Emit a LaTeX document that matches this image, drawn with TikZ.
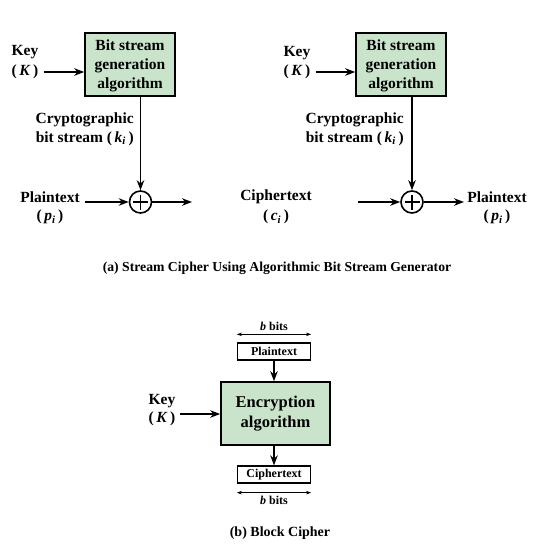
\documentclass[tikz,border=0pt]{standalone}
\usepackage{fontspec}
\setmainfont{Liberation Serif}
\usetikzlibrary{arrows.meta, calc}

\definecolor{algogreen}{RGB}{202,228,204}

\newcommand{\keytxt}{(\,\textit{K}\,)}

\begin{document}
\begin{tikzpicture}[x=1pt, y=-1pt,
    every node/.style={inner sep=0pt, font=\fontsize{15.5}{19}\selectfont\bfseries},
    algobox/.style={draw, fill=algogreen, line width=1.6pt, align=center},
    smallbox/.style={draw, line width=1.3pt, minimum width=73pt, minimum height=17pt,
      font=\fontsize{12}{14}\selectfont\bfseries},
    lbl/.style={align=center},
    flow/.style={line width=1.6pt, -{Stealth[length=10pt, width=7.5pt]}},
    span/.style={line width=0.7pt, {Stealth[length=5pt, width=3.5pt]}-{Stealth[length=5pt, width=3.5pt]}},
    xorsym/.style={circle, draw, line width=1.6pt, minimum size=22pt}]

  \useasboundingbox (0,0) rectangle (545,558);

  % (a) left: encryption side
  \node (keyA) at (25,52) {Key};
  \node (kA) at (25,72) {\keytxt};
  \node[algobox, minimum width=90pt, minimum height=63pt] (algA) at (130,64.5)
    {\strut Bit stream\\generation\\algorithm};
  \node[xorsym] (xorA) at (140.5,202) {};
  \draw[line width=1.6pt] ($(xorA)+(-7.5,0)$) -- ($(xorA)+(7.5,0)$)
    ($(xorA)+(0,-7.5)$) -- ($(xorA)+(0,7.5)$);
  \node[lbl, anchor=east] (cryA) at (134,129) {Cryptographic\\bit stream (\,\textit{k}\textsubscript{\textit{i}}\,)};
  \node (plainA) at (50,197) {Plaintext};
  \node (piA) at (50,217) {(\,\textit{p}\textsubscript{\textit{i}}\,)};
  \coordinate (inA) at (85,202);
  \coordinate (outA) at (192,202);

  \draw[flow] ([xshift=5pt]kA.east) -- (kA.east -| algA.west);
  \draw[flow] (algA.south -| xorA) -- (xorA.north);
  \draw[flow] (inA) -- (xorA.west);
  \draw[flow] (xorA.east) -- (outA);

  % (a) right: decryption side
  \node (keyB) at (297,53) {Key};
  \node (kB) at (297,72) {\keytxt};
  \node[algobox, minimum width=90pt, minimum height=63pt] (algB) at (401,64.5)
    {\strut Bit stream\\generation\\algorithm};
  \node[xorsym] (xorB) at (412,202) {};
  \draw[line width=1.6pt] ($(xorB)+(-7.5,0)$) -- ($(xorB)+(7.5,0)$)
    ($(xorB)+(0,-7.5)$) -- ($(xorB)+(0,7.5)$);
  \node[lbl, anchor=east] (cryB) at (404,129) {Cryptographic\\bit stream (\,\textit{k}\textsubscript{\textit{i}}\,)};
  \node (cipherB) at (276,197) {Ciphertext};
  \node (ciB) at (276,217) {(\,\textit{c}\textsubscript{\textit{i}}\,)};
  \node (plainB) at (497,197) {Plaintext};
  \node (piB) at (497,217) {(\,\textit{p}\textsubscript{\textit{i}}\,)};
  \coordinate (inB) at (358,202);
  \coordinate (outB) at (464,202);

  \draw[flow] ([xshift=5pt]kB.east) -- (kB.east -| algB.west);
  \draw[flow] (algB.south -| xorB) -- (xorB.north);
  \draw[flow] (inB) -- (xorB.west);
  \draw[flow] (xorB.east) -- (outB);

  \node[font=\fontsize{13.7}{16}\selectfont\bfseries] (capA) at (277,268)
    {(a) Stream Cipher Using Algorithmic Bit Stream Generator};

  % (b) block cipher
  \node[smallbox] (ptC) at (274,351.5) {Plaintext};
  \node[algobox, minimum width=109pt, minimum height=63pt,
    font=\fontsize{16.5}{20}\selectfont\bfseries] (encC) at (275.5,413.5) {Encryption\\algorithm};
  \node[smallbox] (ctC) at (274,474.5) {Ciphertext};
  \node (keyC) at (162,401) {Key};
  \node (kC) at (162,419) {\keytxt};
  \coordinate (keyInC) at (180,414);

  \draw[span] ([yshift=8pt]ptC.north west) -- ([yshift=8pt]ptC.north east)
    node[midway, above=3pt, font=\fontsize{12}{14}\selectfont\bfseries] (bitsTop) {\textit{b} bits};
  \draw[span] ([yshift=-9pt]ctC.south west) -- ([yshift=-9pt]ctC.south east)
    node[midway, below=3pt, font=\fontsize{12}{14}\selectfont\bfseries] (bitsBot) {\textit{b} bits};

  \draw[flow] (ptC.south) -- (ptC.south |- encC.north);
  \draw[flow] (encC.south -| ctC) -- (ctC.north);
  \draw[flow] (keyInC) -- (keyInC -| encC.west);

  \node[font=\fontsize{14}{16}\selectfont\bfseries] (capB) at (280,533) {(b) Block Cipher};
\end{tikzpicture}
\end{document}
